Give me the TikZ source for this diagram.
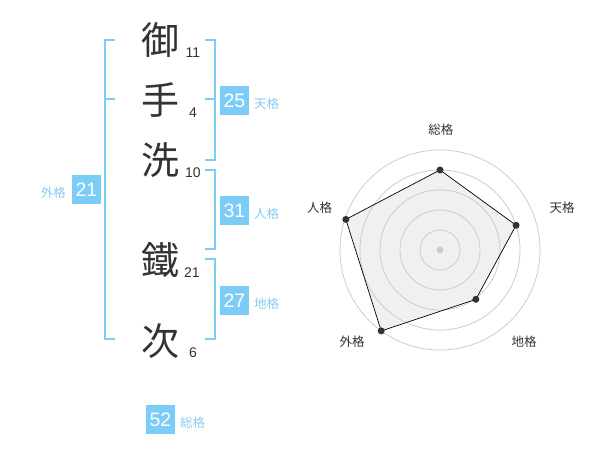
\documentclass[tikz,border=0pt]{standalone}
\usepackage{fontspec}
\setmainfont{Noto Sans CJK JP}
\newfontfamily\numfont{Liberation Sans}
\usepackage{tikz}
\definecolor{kakublue}{RGB}{124,204,248}
\definecolor{kakulabel}{RGB}{136,204,240}
\definecolor{inkgray}{RGB}{51,51,51}
\definecolor{ringgray}{RGB}{204,204,204}
\definecolor{areagray}{RGB}{240,240,240}

\begin{document}
\begin{tikzpicture}[x = 1pt, y = -1pt,
                        kanji/.style = {inner sep = 0pt, text = inkgray, font = \fontsize{38}{38}\selectfont},
                        kaku/.style = {inner sep = 0pt, text = inkgray, font = \numfont\fontsize{14}{14}\selectfont},
                        numbox/.style = {fill = kakublue, text = white, minimum width = 29pt, minimum height = 29pt, inner sep = 0pt, font = \numfont\fontsize{19.5}{19.5}\selectfont},
                        kakuname/.style = {inner sep = 0pt, text = kakulabel, font = \fontsize{12.5}{12.5}\selectfont},
                        axisname/.style = {inner sep = 0pt, text = inkgray, font = \fontsize{12.5}{12.5}\selectfont},
                        bracket/.style = {draw = kakublue, line width = 2pt},
                        ring/.style = {draw = ringgray, line width = 0.8pt},
                        dot/.style = {circle, fill = inkgray, minimum size = 7pt, inner sep = 0pt}]
      \useasboundingbox (0, 0) rectangle (600, 470);

      % name
      \node [kanji] (c1) at (160, 40){御};
      \node [kanji] (c2) at (160, 100){手};
      \node [kanji] (c3) at (160, 160){洗};
      \node [kanji] (c4) at (160, 260){鐵};
      \node [kanji] (c5) at (160, 341){次};
      \node [kaku] (k1) at (193, 53){11};
      \node [kaku] (k2) at (193, 113){4};
      \node [kaku] (k3) at (193, 173){10};
      \node [kaku] (k4) at (192, 273){21};
      \node [kaku] (k5) at (193, 353){6};

      % brackets
      \draw [bracket] (115, 40) -- (105, 40) -- (105, 339) -- (115, 339);
      \draw [bracket] (105, 99) -- (115, 99);
      \draw [bracket] (205, 40) -- (215, 40) -- (215, 160) -- (205, 160);
      \draw [bracket] (205, 99) -- (215, 99);
      \draw [bracket] (205, 170) -- (215, 170) -- (215, 249) -- (205, 249);
      \draw [bracket] (205, 259) -- (215, 259) -- (215, 339) -- (205, 339);

      % values
      \node [numbox] (ten) at (234.5, 100.5){25};
      \node [kakuname, anchor = west] (tenl) at (254, 104){天格};
      \node [numbox] (jin) at (234.5, 210.5){31};
      \node [kakuname, anchor = west] (jinl) at (254, 214){人格};
      \node [numbox] (chi) at (234.5, 300.5){27};
      \node [kakuname, anchor = west] (chil) at (254, 304){地格};
      \node [numbox] (gai) at (86.5, 190){21};
      \node [kakuname, anchor = east] (gail) at (66, 193){外格};
      \node [numbox] (sou) at (160.5, 419.5){52};
      \node [kakuname, anchor = west] (soul) at (180, 423){総格};

      % radar
      \begin{scope}[shift = {(440, 250)}]
      \coordinate (p1) at (-90:80);
      \coordinate (p2) at (-18:80);
      \coordinate (p3) at (54:61);
      \coordinate (p4) at (126:100);
      \coordinate (p5) at (198:99);
      \fill [areagray] (p1) -- (p2) -- (p3) -- (p4) -- (p5) -- cycle;
      \foreach \r in {20, 40, 60, 80, 100}
        \draw [ring] (0, 0) circle (\r);
      \node [circle, fill = ringgray, minimum size = 7pt, inner sep = 0pt] (o) at (0, 0){};
      \draw [black, line width = 0.7pt] (p1) -- (p2) -- (p3) -- (p4) -- (p5) -- cycle;
      \node [dot] at (p1){};
      \node [dot] at (p2){};
      \node [dot] at (p3){};
      \node [dot] at (p4){};
      \node [dot] at (p5){};
      \node [axisname] (a1) at (0.8, -120){総格};
      \node [axisname] (a2) at (122, -42){天格};
      \node [axisname] (a3) at (84, 92){地格};
      \node [axisname] (a4) at (-88, 92){外格};
      \node [axisname] (a5) at (-120.5, -42){人格};
      \end{scope}

      \end{tikzpicture}
\end{document}
